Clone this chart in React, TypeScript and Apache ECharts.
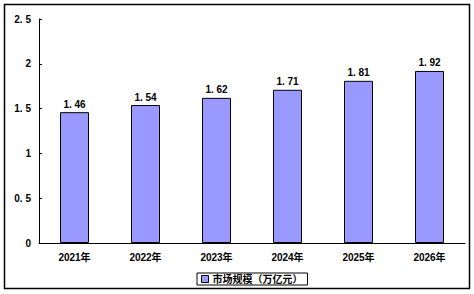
import React, { useEffect, useRef } from "react";
import * as echarts from "echarts";

const categories = ["2021年", "2022年", "2023年", "2024年", "2025年", "2026年"];
const values = [1.46, 1.54, 1.62, 1.71, 1.81, 1.92];
const seriesName = "市场规模（万亿元）";

const fmt = (v: number) => {
  const s = String(v);
  return s.replace(".", ". ");
};

export default function App() {
  const ref = useRef<HTMLDivElement>(null);
  useEffect(() => {
    const chart = echarts.init(ref.current!, null, { renderer: "svg" });
    const font = "'Liberation Sans', 'Noto Sans CJK SC', sans-serif";
    const cjk = "'Liberation Sans', 'Noto Sans CJK SC', sans-serif";
    chart.setOption({
      animation: false,
      backgroundColor: "#fff",
      textStyle: { fontFamily: font },
      grid: { left: 39, right: 9, top: 19, bottom: 51 },
      graphic: [
        {
          type: "rect",
          shape: { x: 4.5, y: 4.5, width: 465, height: 284 },
          style: { fill: "none", stroke: "#000", lineWidth: 1.5 },
          silent: true,
        },
      ],
      legend: {
        data: [seriesName],
        left: 197,
        top: 273,
        orient: "horizontal",
        borderColor: "#000",
        borderWidth: 1,
        borderRadius: 0,
        padding: [1, 5, 1, 4],
        itemWidth: 7,
        itemHeight: 7,
        itemGap: 4,
        icon: "rect",
        itemStyle: { borderColor: "#000", borderWidth: 1 },
        textStyle: { fontSize: 10, fontWeight: "bold", color: "#000", fontFamily: cjk, padding: [0, 0, 0, -1] },
      },
      xAxis: {
        type: "category",
        data: categories,
        axisLine: { lineStyle: { color: "#000", width: 1 } },
        axisTick: { inside: true, length: 3, lineStyle: { color: "#000" } },
        axisLabel: { color: "#000", fontSize: 10, fontWeight: "bold", margin: 9, fontFamily: cjk },
      },
      yAxis: {
        type: "value",
        min: 0,
        max: 2.5,
        interval: 0.5,
        axisLine: { show: true, lineStyle: { color: "#000", width: 1 } },
        axisTick: { show: true, inside: true, length: 3, lineStyle: { color: "#000" } },
        splitLine: { show: false },
        axisLabel: {
          color: "#000",
          fontSize: 10,
          fontWeight: "bold",
          margin: 8,
          formatter: (v: number) => fmt(v),
        },
      },
      series: [
        {
          name: seriesName,
          type: "bar",
          data: values,
          barWidth: 29,
          itemStyle: { color: "#9999FF", borderColor: "#000", borderWidth: 1 },
          label: {
            show: true,
            position: "top",
            distance: 3,
            color: "#000",
            fontSize: 10,
            fontWeight: "bold",
            formatter: (p: any) => fmt(p.value),
          },
        },
      ],
    });
    return () => chart.dispose();
  }, []);
  return (
    <div
      ref={ref}
      style={{ position: "fixed", left: 0, top: 0, width: 474, height: 294 }}
    />
  );
}
